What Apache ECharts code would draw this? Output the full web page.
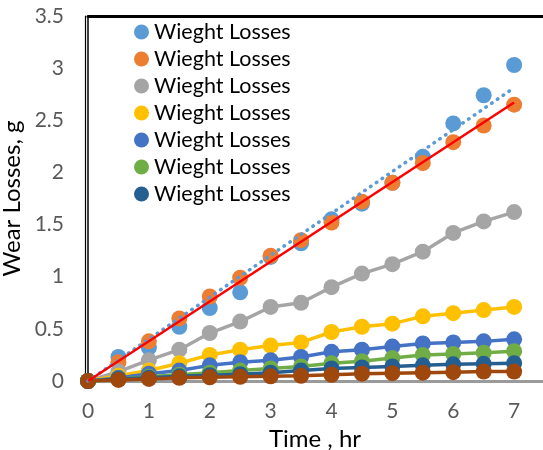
<!DOCTYPE html>
<html><head><meta charset="utf-8">
<script src="https://cdn.jsdelivr.net/npm/echarts@6/dist/echarts.min.js"></script>
<style>html,body{margin:0;padding:0;background:#fff}#c{width:543px;height:450px}</style>
</head><body><div id="c"></div>
<script>
const time = [0,0.5,1,1.5,2,2.5,3,3.5,4,4.5,5,5.5,6,6.5,7];
const s1 = [0,0.23,0.32,0.52,0.70,0.85,1.19,1.32,1.55,1.70,1.90,2.15,2.47,2.74,3.03];
const s2 = [0,0.18,0.38,0.60,0.81,0.99,1.20,1.35,1.52,1.72,1.90,2.09,2.29,2.45,2.65];
const s3 = [0,0.09,0.20,0.30,0.46,0.57,0.71,0.75,0.90,1.03,1.12,1.24,1.42,1.53,1.62];
const s4 = [0,0.05,0.10,0.17,0.25,0.30,0.34,0.37,0.47,0.52,0.55,0.62,0.65,0.68,0.71];
const s5 = [0,0.03,0.07,0.10,0.15,0.18,0.20,0.23,0.28,0.30,0.33,0.36,0.37,0.38,0.40];
const s6 = [0,0.02,0.04,0.06,0.08,0.10,0.12,0.14,0.17,0.19,0.22,0.25,0.26,0.27,0.285];
const s7 = [0,0.02,0.03,0.045,0.055,0.065,0.08,0.10,0.12,0.13,0.14,0.15,0.16,0.165,0.17];
const s8 = [0,0.01,0.02,0.03,0.035,0.04,0.045,0.05,0.06,0.07,0.075,0.08,0.085,0.09,0.09];
const xTicks = ['0','1','2','3','4','5','6','7'];
const yTicks = ['0','0.5','1','1.5','2','2.5','3','3.5'];
const legendLabel = 'Wieght Losses';
const colors = ['#5B9BD5','#ED7D31','#A5A5A5','#FFC000','#4472C4','#70AD47','#255E91','#9E480E'];

const allSeries = [s1,s2,s3,s4,s5,s6,s7,s8];
const names = allSeries.map((_,i)=> legendLabel + '\u200b'.repeat(i));
const pts = arr => time.map((t,i)=>[t,arr[i]]);
// linear trendline through origin (least squares)
function trend(arr){
  let a=0,b=0; time.forEach((t,i)=>{a+=t*arr[i]; b+=t*t;});
  const k=a/b; return [[0,0],[time[time.length-1], k*time[time.length-1]]];
}
const FONT = 'Lato';
const series = allSeries.map((arr,i)=>({
  name: names[i], type: 'line', data: pts(arr),
  symbol: 'circle', symbolSize: 16,
  itemStyle: {color: colors[i]},
  lineStyle: i<2 ? {width:0, opacity:0} : {width:3.5, color: colors[i]},
  z: 2+i, silent: true, animation:false
}));
series.push({type:'line', data: trend(s1), symbol:'none', z:20, animation:false,
  lineStyle:{color:'#5B9BD5', width:3.5, type:[0.5,6.5], cap:'round'}});
series.push({type:'line', data: trend(s2), symbol:'none', z:21, animation:false,
  lineStyle:{color:'#FF0000', width:2.5}});

const chart = echarts.init(document.getElementById('c'), null, {renderer:'canvas'});
chart.setOption({
  animation:false,
  backgroundColor:'#fff',
  grid:{left:88, top:16, right:-32, bottom:69, containLabel:false, outerBoundsMode:'none'},
  legend:{
    data: names.slice(0,7), orient:'vertical', left:129, top:16,
    itemWidth:15, itemHeight:15, itemGap:5, icon:'circle',
    formatter: () => legendLabel,
    textStyle:{fontFamily:FONT, fontSize:21.5, color:'#000', lineHeight:21.7}
  },
  xAxis:[{
    type:'value', min:0, max:8, interval:1,
    name:'Time , hr', nameLocation:'middle', nameGap:45,
    nameTextStyle:{fontFamily:FONT, fontSize:24, color:'#000', padding:[0,33,0,0]},
    axisLine:{show:true, onZero:false, lineStyle:{color:'#9a9a9a', width:3}},
    axisTick:{show:false}, splitLine:{show:false},
    axisLabel:{margin:20, fontFamily:FONT, fontSize:21, color:'#595959',
      formatter: v => xTicks[v] !== undefined ? xTicks[v] : ''}
  },{
    type:'value', min:0, max:8, position:'top',
    axisLine:{show:true, onZero:false, lineStyle:{color:'#000', width:3}},
    axisTick:{show:false}, axisLabel:{show:false}, splitLine:{show:false}
  }],
  yAxis:[{
    type:'value', min:0, max:3.5, interval:0.5,
    name:'Wear Losses, g', nameLocation:'middle', nameGap:58,
    nameTextStyle:{fontFamily:FONT, fontSize:24, color:'#000'},
    axisLine:{show:true, onZero:false, lineStyle:{color:'#000', width:1.5}},
    axisTick:{show:false}, splitLine:{show:false},
    axisLabel:{margin:24, fontFamily:FONT, fontSize:21, color:'#595959',
      formatter: v => yTicks[Math.round(v/0.5)]}
  },{
    type:'value', min:0, max:3.5, position:'left', offset:2.5,
    axisLine:{show:true, onZero:false, lineStyle:{color:'#000', width:1.2}},
    axisTick:{show:false}, axisLabel:{show:false}, splitLine:{show:false}
  }],
  series: series
});
</script></body></html>
